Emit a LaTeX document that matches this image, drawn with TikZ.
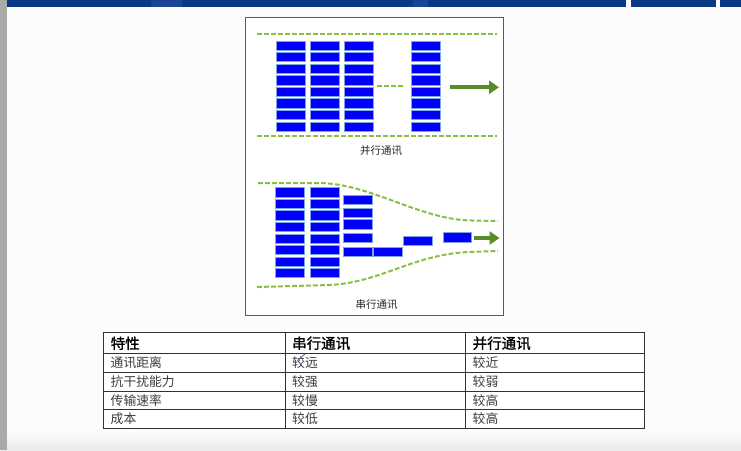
\documentclass[tikz,border=0pt]{standalone}
\usepackage{fontspec}
\setmainfont{Noto Sans CJK SC}
\newfontfamily\headfont[FakeBold=1.2]{Noto Sans CJK SC}
\usetikzlibrary{arrows.meta}

\definecolor{pagebg}{RGB}{252,252,252}
\definecolor{sidegray}{RGB}{170,170,170}
\definecolor{bandblue}{RGB}{10,58,132}
\definecolor{bandlight}{RGB}{28,68,150}
\definecolor{framegray}{RGB}{90,90,90}
\definecolor{brickfill}{RGB}{0,0,250}
\definecolor{brickedge}{RGB}{125,165,230}
\definecolor{wiregreen}{RGB}{140,190,70}
\definecolor{arrowgreen}{RGB}{88,140,42}
\definecolor{gridline}{RGB}{50,50,50}
\definecolor{bodytext}{RGB}{60,60,60}
\definecolor{penmark}{RGB}{140,80,190}

\tikzset{
  brick/.style={draw=brickedge, fill=brickfill, line width=0.9pt,
    rectangle, inner sep=0pt, anchor=north west,
    minimum width=28.5pt, minimum height=9.2pt},
  wire/.style={draw=wiregreen, line width=2pt,
    dash pattern=on 4.8pt off 2.2pt},
  flow/.style={draw=arrowgreen, line width=4pt,
    -{Triangle[length=10pt,width=13pt]}},
  caption/.style={font=\fontsize{10.5}{12}\selectfont, text=black!85, inner sep=0pt},
  headcell/.style={font=\headfont\fontsize{14.5}{16}\selectfont, text=black,
    anchor=west, inner sep=0pt},
  bodycell/.style={font=\fontsize{12.8}{14}\selectfont, text=bodytext,
    anchor=west, inner sep=0pt},
}

\begin{document}
\begin{tikzpicture}[x=1pt,y=-1pt]
\useasboundingbox (0,0) rectangle (741,450);

% page background, side strip and title band
\fill[pagebg] (0,0) rectangle (741,450);
\shade[top color=pagebg, bottom color=black!8] (0,431) rectangle (741,450);
\fill[sidegray] (0,0) rectangle (7,450);
\fill[bandblue] (7,0) rectangle (626,7);
\fill[bandlight] (151,0) rectangle (182,7);
\fill[bandlight] (413,0) rectangle (428,7);
\fill[bandblue] (631,0) rectangle (716,7);
\fill[bandblue] (720,0) rectangle (741,7);

% figure frame
\draw[framegray, fill=white, line width=1pt] (245,17.5) rectangle (503,315);

% ---------- parallel transfer ----------
\draw[wire] (257,34.3) -- (497,34.3);
\draw[wire] (257,136) -- (497,136);
\foreach \c/\x in {1/276,2/310,3/344,4/411}{
  \foreach \r in {0,...,7}{
    \node[brick] (p\c r\r) at (\x,40.7+11.55*\r) {};
  }
}
\coordinate (gapL) at (377,86);
\coordinate (gapR) at (403,86);
\draw[wire] (gapL) -- (gapR);
\coordinate (pOut0) at (450,87.3);
\coordinate (pOut1) at (499,87.3);
\draw[flow] (pOut0) -- (pOut1);
\node[caption] (pcap) at (381,151) {并行通讯};

% ---------- serial transfer ----------
\draw[wire] (258,183) -- (318,183)
  .. controls (370,183) and (420,220) .. (472,220.5) -- (498,221);
\draw[wire] (257,287) -- (330,285)
  .. controls (382,282) and (412,255) .. (468,252) -- (498,251);
\foreach \c/\x in {1/275,2/310}{
  \foreach \r in {0,...,7}{
    \node[brick] (s\c r\r) at (\x,187.3+11.55*\r) {};
  }
}
\foreach \r/\y in {0/195,1/207.8,2/219.4,3/232.7,4/246.7}{
  \node[brick] (s3r\r) at (343,\y) {};
}
\node[brick] (q1) at (373.3,246.7) {};
\node[brick] (q2) at (403.3,235.8) {};
\node[brick] (q3) at (442.7,232.3) {};
\coordinate (sOut0) at (474,238);
\coordinate (sOut1) at (499.5,238);
\draw[flow] (sOut0) -- (sOut1);
\node[caption] (scap) at (376.5,305) {串行通讯};

% ---------- comparison table ----------
\fill[white] (103,332.5) rectangle (644,428.5);
\draw[gridline, line width=0.9pt] (103,332.5) rectangle (644,428.5);
\foreach \y in {353.5,372.3,391,409.7}{
  \draw[gridline, line width=0.8pt] (103,\y) -- (644,\y);
}
\draw[gridline, line width=0.8pt] (285,332.5) -- (285,428.5);
\draw[gridline, line width=0.8pt] (465,332.5) -- (465,428.5);

\node[headcell] (h1) at (110.5,343.3) {特性};
\node[headcell] (h2) at (292,343.3) {串行通讯};
\node[headcell] (h3) at (472.5,343.3) {并行通讯};

\node[bodycell] (a1) at (110.5,363) {通讯距离};
\node[bodycell] (a2) at (292,363) {较远};
\node[bodycell] (a3) at (472.5,363) {较近};

\node[bodycell] (b1) at (110.5,381.7) {抗干扰能力};
\node[bodycell] (b2) at (292,381.7) {较强};
\node[bodycell] (b3) at (472.5,381.7) {较弱};

\node[bodycell] (c1) at (110.5,400.4) {传输速率};
\node[bodycell] (c2) at (292,400.4) {较慢};
\node[bodycell] (c3) at (472.5,400.4) {较高};

\node[bodycell] (d1) at (110.5,419.1) {成本};
\node[bodycell] (d2) at (292,419.1) {较低};
\node[bodycell] (d3) at (472.5,419.1) {较高};

% pen stroke over the first serial entry
\draw[penmark, line width=0.9pt, line cap=round] (297.5,360.5) -- (305,354);
\end{tikzpicture}
\end{document}
